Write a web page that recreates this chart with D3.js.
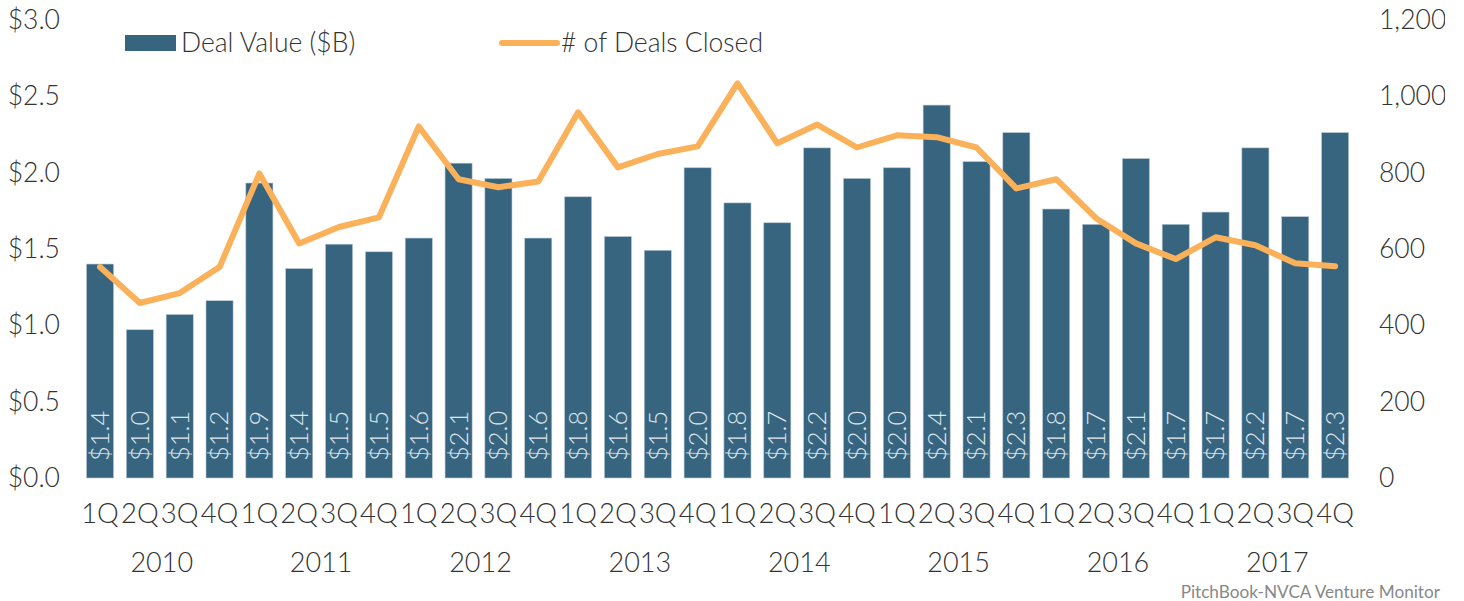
<!DOCTYPE html>
<html>
<head>
<meta charset="utf-8">
<script src="https://cdn.jsdelivr.net/npm/d3@7"></script>
<style>
  html, body { margin: 0; padding: 0; background: #fff; }
  svg { display: block; font-family: Lato, "Open Sans", sans-serif; }
</style>
</head>
<body>
<svg id="chart" width="1445" height="601"></svg>
<script>
const quarters = ['1Q','2Q','3Q','4Q'];
const years = ['2010','2011','2012','2013','2014','2015','2016','2017'];
const dealValue = [1.40, 0.97, 1.07, 1.16, 1.93, 1.37, 1.53, 1.48,
                   1.57, 2.06, 1.96, 1.57, 1.84, 1.58, 1.49, 2.03,
                   1.80, 1.67, 2.16, 1.96, 2.03, 2.44, 2.07, 2.26,
                   1.76, 1.66, 2.09, 1.66, 1.74, 2.16, 1.71, 2.26];
const dealCount = [552, 458, 484, 552, 797, 614, 657, 682,
                   920, 782, 761, 776, 957, 813, 848, 868,
                   1033, 876, 925, 865, 897, 892, 865, 758,
                   782, 680, 614, 573, 630, 609, 562, 554];
const leftTicks = [0, 0.5, 1, 1.5, 2, 2.5, 3];
const rightTicks = [0, 200, 400, 600, 800, 1000, 1200];

const barColor = '#376580';
const lineColor = '#fbb15a';
const textColor = '#333';

const svg = d3.select('#chart');
const idx = d3.range(dealValue.length);

const x = d3.scaleBand()
    .domain(idx)
    .range([80.1, 1355])
    .paddingInner(0.32)
    .paddingOuter(0.16);

const yL = d3.scaleLinear().domain([0, 3]).range([478, 19.5]);
const yR = d3.scaleLinear().domain([0, 1200]).range([478, 19.5]);

// left axis labels
svg.append('g')
    .selectAll('text')
    .data(leftTicks)
    .join('text')
    .attr('x', 60)
    .attr('y', d => yL(d))
    .attr('dy', '0.35em')
    .attr('text-anchor', 'end')
    .attr('font-size', 26.5)
    .attr('font-weight', 300)
    .attr('fill', textColor)
    .text(d => '$' + d3.format('.1f')(d));

// right axis labels
svg.append('g')
    .selectAll('text')
    .data(rightTicks)
    .join('text')
    .attr('x', 1379)
    .attr('y', d => yR(d))
    .attr('dy', '0.35em')
    .attr('font-size', 26.5)
    .attr('font-weight', 300)
    .attr('fill', textColor)
    .text(d => d3.format(',')(d));

// bars
svg.append('g')
    .selectAll('rect')
    .data(dealValue)
    .join('rect')
    .attr('x', (d, i) => x(i))
    .attr('width', x.bandwidth())
    .attr('y', d => yL(d))
    .attr('height', d => yL(0) - yL(d))
    .attr('fill', barColor)
    .attr('stroke', '#b9c9d3')
    .attr('stroke-width', 0.6);

// value labels inside bars
svg.append('g')
    .selectAll('text')
    .data(dealValue)
    .join('text')
    .attr('transform', (d, i) => `translate(${x(i) + x.bandwidth() / 2},461) rotate(-90)`)
    .attr('dy', '0.35em')
    .attr('font-size', 25.5)
    .attr('font-weight', 300)
    .attr('fill', '#dfe6eb')
    .text(d => '$' + d.toFixed(1));

// deals line
const line = d3.line()
    .x((d, i) => x(i) + x.bandwidth() / 2)
    .y(d => yR(d));

svg.append('path')
    .datum(dealCount)
    .attr('d', line)
    .attr('fill', 'none')
    .attr('stroke', lineColor)
    .attr('stroke-width', 6)
    .attr('stroke-linejoin', 'round')
    .attr('stroke-linecap', 'round');

// quarter labels
svg.append('g')
    .selectAll('text')
    .data(idx)
    .join('text')
    .attr('x', i => x(i) + x.bandwidth() / 2)
    .attr('y', 513)
    .attr('dy', '0.35em')
    .attr('text-anchor', 'middle')
    .attr('font-size', 27.5)
    .attr('font-weight', 300)
    .attr('fill', textColor)
    .text(i => quarters[i % 4]);

// year labels
svg.append('g')
    .selectAll('text')
    .data(years)
    .join('text')
    .attr('x', (d, i) => (x(i * 4) + x(i * 4 + 3) + x.bandwidth()) / 2 + 2)
    .attr('y', 563)
    .attr('dy', '0.35em')
    .attr('text-anchor', 'middle')
    .attr('font-size', 27)
    .attr('font-weight', 300)
    .attr('fill', textColor)
    .text(d => d);

// legend
const legend = svg.append('g');
legend.append('rect')
    .attr('x', 125).attr('y', 35)
    .attr('width', 51).attr('height', 16)
    .attr('fill', barColor);
legend.append('text')
    .attr('x', 181).attr('y', 43).attr('dy', '0.35em')
    .attr('font-size', 26.5).attr('font-weight', 300)
    .attr('fill', textColor)
    .text('Deal Value ($B)');
legend.append('line')
    .attr('x1', 502).attr('x2', 557)
    .attr('y1', 43).attr('y2', 43)
    .attr('stroke', lineColor)
    .attr('stroke-width', 6)
    .attr('stroke-linecap', 'round');
legend.append('text')
    .attr('x', 561).attr('y', 43).attr('dy', '0.35em')
    .attr('font-size', 26.5).attr('font-weight', 300)
    .attr('fill', textColor)
    .text('# of Deals Closed');

// source
svg.append('text')
    .attr('x', 1440).attr('y', 592).attr('dy', '0.35em')
    .attr('text-anchor', 'end')
    .attr('font-size', 17.2)
    .attr('fill', '#888')
    .text('PitchBook-NVCA Venture Monitor');
</script>
</body>
</html>
